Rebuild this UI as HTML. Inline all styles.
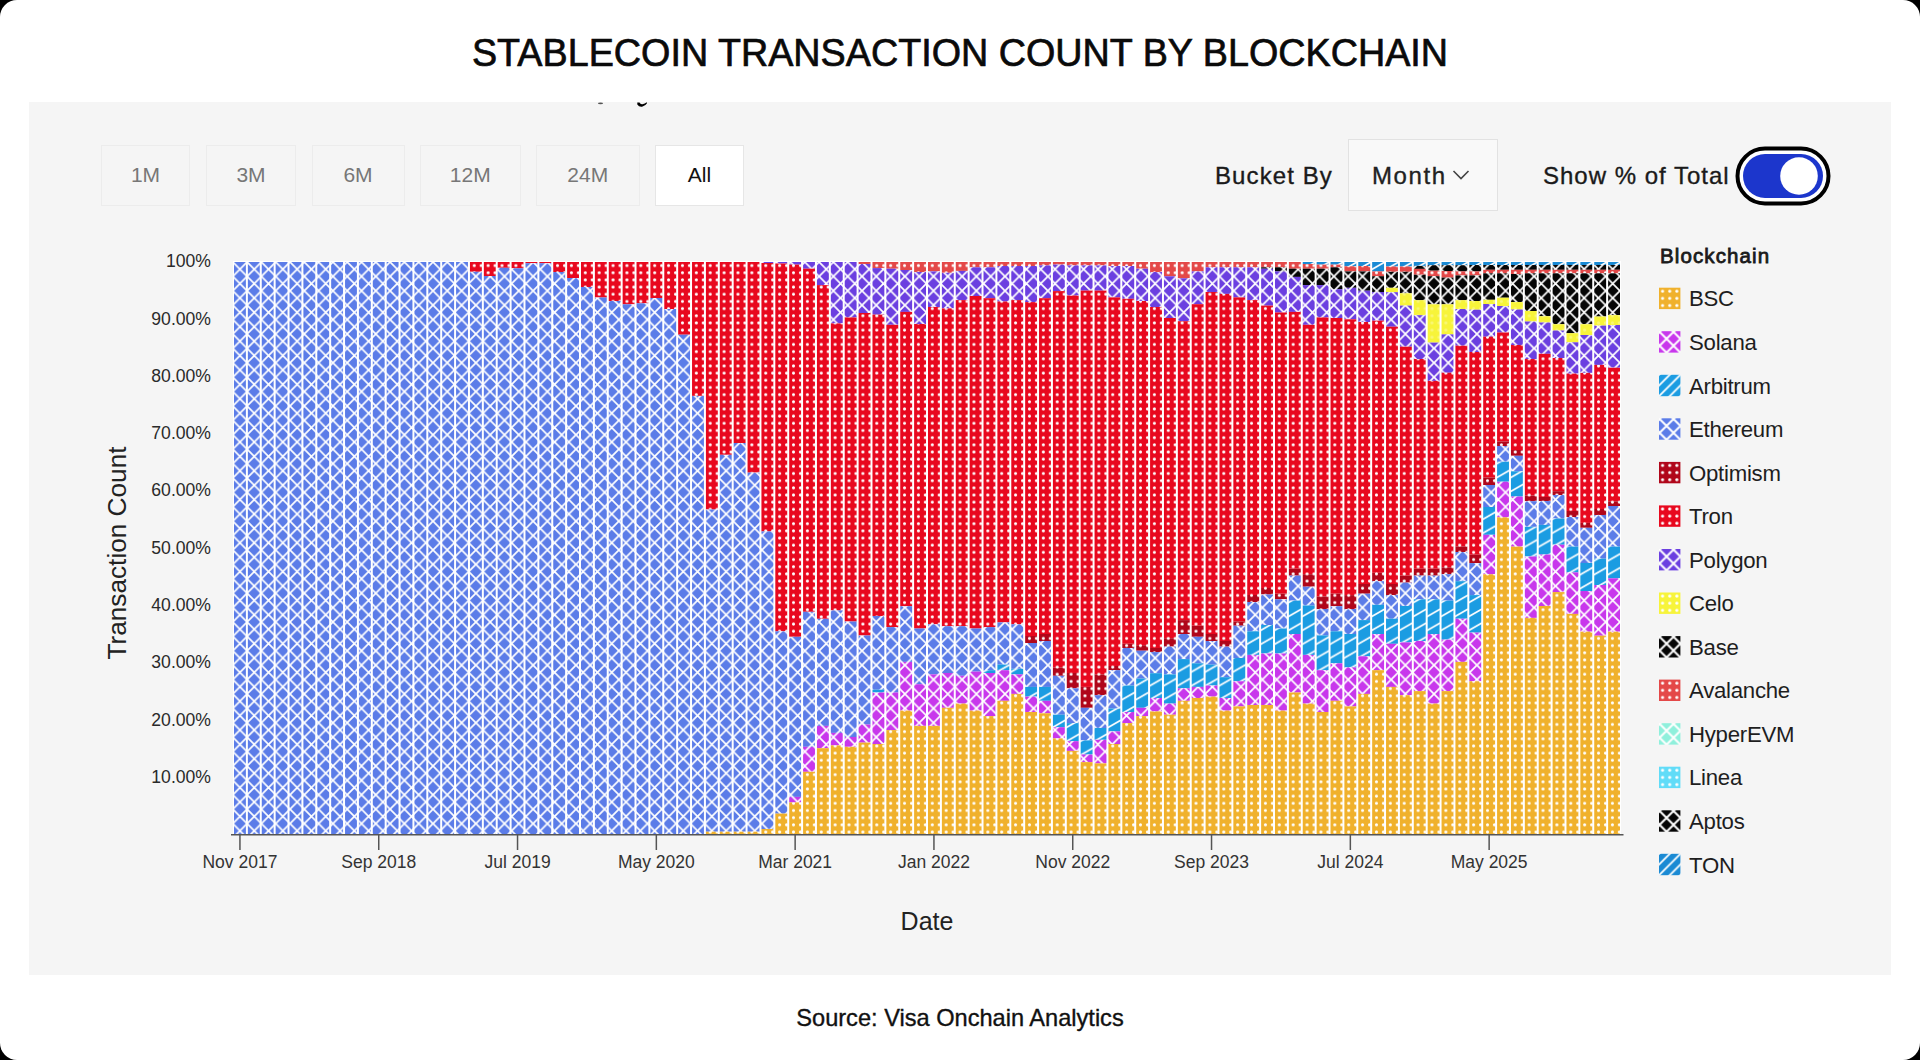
<!DOCTYPE html>
<html><head><meta charset="utf-8"><title>Stablecoin Transaction Count by Blockchain</title>
<style>
html,body{margin:0;padding:0;width:1920px;height:1060px;overflow:hidden;background:#000;}
body{font-family:"Liberation Sans",sans-serif;position:relative;}
.card{position:absolute;left:0;top:0;width:1920px;height:1060px;background:#fff;border-radius:17px;overflow:hidden;}
.title{position:absolute;left:0;width:1920px;top:29.5px;text-align:center;font-size:39.5px;color:#0a0a0a;letter-spacing:0px;white-space:nowrap;-webkit-text-stroke:0.7px #0a0a0a;transform:scaleX(0.955);transform-origin:960px 0;}
.panel{position:absolute;left:29px;top:102px;width:1862px;height:873px;background:#f5f5f5;}
.btn{position:absolute;top:144.5px;height:61px;box-sizing:border-box;border:1.5px solid #ececec;background:#f5f5f5;color:#777;font-size:21px;display:flex;align-items:center;justify-content:center;}
.btn.on{background:#fff;color:#111;border-color:#e6e6e6;}
.lbl{position:absolute;font-size:24px;color:#1a1a1a;white-space:nowrap;-webkit-text-stroke:0.35px currentColor;}
.dd{position:absolute;left:1348px;top:139px;width:150px;height:72px;box-sizing:border-box;border:1.5px solid #e2e2e2;background:#f9f9f9;}
.chart{position:absolute;left:0;top:0;}
</style></head><body>
<div class="card">
<div class="title">STABLECOIN TRANSACTION COUNT BY BLOCKCHAIN</div>
<div class="panel"></div>
<svg style="position:absolute;left:590px;top:98px" width="70" height="14" viewBox="0 0 70 14"><ellipse cx="10.5" cy="5.3" rx="2.6" ry="0.9" fill="#555"/><path d="M47.3 4.6L49.5 4.6Q50.5 6.6 52.5 6.2Q54.8 5.6 56.8 4.2L57 5.2Q55.5 7.6 52.6 8.6Q49.2 9.4 47.3 6.6Z" fill="#000"/></svg>
<div class="btn" style="left:101px;width:89px">1M</div>
<div class="btn" style="left:206px;width:90px">3M</div>
<div class="btn" style="left:311.5px;width:93px">6M</div>
<div class="btn" style="left:420px;width:100.5px">12M</div>
<div class="btn" style="left:535.5px;width:104.5px">24M</div>
<div class="btn on" style="left:655px;width:89px">All</div>
<div class="lbl" style="left:1215px;top:162px;letter-spacing:1.1px">Bucket By</div>
<div class="dd"></div>
<div class="lbl" style="left:1372px;top:162px;color:#222;letter-spacing:1.6px">Month</div>
<svg style="position:absolute;left:1452px;top:169px" width="18" height="12" viewBox="0 0 18 12"><path d="M1.5 2L9 9.5L16.5 2" fill="none" stroke="#444" stroke-width="1.6"/></svg>
<div class="lbl" style="left:1543px;top:162px;letter-spacing:1.0px">Show % of Total</div>
<svg style="position:absolute;left:1734px;top:145px" width="98" height="62" viewBox="0 0 98 62">
<rect x="3.5" y="3.5" width="91" height="55" rx="27.5" fill="#fff" stroke="#000" stroke-width="4"/>
<rect x="9" y="9" width="80" height="44" rx="22" fill="#1c36cc"/>
<circle cx="65" cy="31" r="18.8" fill="#fff"/>
</svg>
<svg class="chart" width="1920" height="1060" viewBox="0 0 1920 1060">
<defs><pattern id="p_bsc" patternUnits="userSpaceOnUse" x="234.83" y="262.0" width="6.94" height="7.17"><rect width="6.94" height="7.17" fill="#f0b12c"/><circle cx="3.47" cy="3.58" r="1.55" fill="#fff" fill-opacity="1"/></pattern><pattern id="p_sol" patternUnits="userSpaceOnUse" x="232.8" y="262.0" width="14.3" height="14.4"><rect width="14.3" height="14.4" fill="#c837ec"/><path d="M0 0L14.3 14.4M14.3 0L0 14.4" stroke="#fff" stroke-width="1.7" stroke-linecap="square"/></pattern><pattern id="p_arb" patternUnits="userSpaceOnUse" x="232.8" y="262.0" width="13.88" height="13.88"><rect width="13.88" height="13.88" fill="#1b9ce2"/><path d="M0 -5.88L13.88 -13.88M0 8.00L13.88 0.00M0 21.88L13.88 13.88" stroke="#fff" stroke-width="1.7"/></pattern><pattern id="p_eth" patternUnits="userSpaceOnUse" x="232.8" y="262.0" width="14.3" height="14.4"><rect width="14.3" height="14.4" fill="#5b7ce8"/><path d="M0 0L14.3 14.4M14.3 0L0 14.4" stroke="#fff" stroke-width="1.7" stroke-linecap="square"/></pattern><pattern id="p_opt" patternUnits="userSpaceOnUse" x="234.83" y="262.0" width="6.94" height="7.17"><rect width="6.94" height="7.17" fill="#b0061a"/><circle cx="3.47" cy="3.58" r="1.55" fill="#fff" fill-opacity="1"/></pattern><pattern id="p_tron" patternUnits="userSpaceOnUse" x="234.83" y="262.0" width="6.94" height="7.17"><rect width="6.94" height="7.17" fill="#e8081e"/><circle cx="3.47" cy="3.58" r="1.55" fill="#fff" fill-opacity="1"/></pattern><pattern id="p_poly" patternUnits="userSpaceOnUse" x="232.8" y="262.0" width="14.3" height="14.4"><rect width="14.3" height="14.4" fill="#6b3fe0"/><path d="M0 0L14.3 14.4M14.3 0L0 14.4" stroke="#fff" stroke-width="1.7" stroke-linecap="square"/></pattern><pattern id="p_celo" patternUnits="userSpaceOnUse" x="234.83" y="262.0" width="6.94" height="7.17"><rect width="6.94" height="7.17" fill="#f7f43a"/><circle cx="3.47" cy="3.58" r="1.55" fill="#fff" fill-opacity="0.3"/></pattern><pattern id="p_base" patternUnits="userSpaceOnUse" x="232.8" y="262.0" width="14.3" height="14.4"><rect width="14.3" height="14.4" fill="#050505"/><path d="M0 0L14.3 14.4M14.3 0L0 14.4" stroke="#fff" stroke-width="1.7" stroke-linecap="square"/></pattern><pattern id="p_aval" patternUnits="userSpaceOnUse" x="234.83" y="262.0" width="6.94" height="7.17"><rect width="6.94" height="7.17" fill="#e44848"/><circle cx="3.47" cy="3.58" r="1.55" fill="#fff" fill-opacity="1"/></pattern><pattern id="p_hyp" patternUnits="userSpaceOnUse" x="232.8" y="262.0" width="14.3" height="14.4"><rect width="14.3" height="14.4" fill="#8ff0dc"/><path d="M0 0L14.3 14.4M14.3 0L0 14.4" stroke="#fff" stroke-width="1.7" stroke-linecap="square"/></pattern><pattern id="p_linea" patternUnits="userSpaceOnUse" x="234.83" y="262.0" width="6.94" height="7.17"><rect width="6.94" height="7.17" fill="#61dcf8"/><circle cx="3.47" cy="3.58" r="1.55" fill="#fff" fill-opacity="1"/></pattern><pattern id="p_apt" patternUnits="userSpaceOnUse" x="232.8" y="262.0" width="14.3" height="14.4"><rect width="14.3" height="14.4" fill="#050505"/><path d="M0 0L14.3 14.4M14.3 0L0 14.4" stroke="#fff" stroke-width="1.7" stroke-linecap="square"/></pattern><pattern id="p_ton" patternUnits="userSpaceOnUse" x="232.8" y="262.0" width="13.88" height="13.88"><rect width="13.88" height="13.88" fill="#1a8ad4"/><path d="M0 -5.88L13.88 -13.88M0 8.00L13.88 0.00M0 21.88L13.88 13.88" stroke="#fff" stroke-width="1.7"/></pattern><pattern id="lg_bsc" patternUnits="userSpaceOnUse" x="1659" y="287.7" width="7.13" height="7.13"><rect width="7.13" height="7.13" fill="#f0b12c"/><circle cx="3.57" cy="3.57" r="1.6" fill="#fff"/></pattern><pattern id="lg_sol" patternUnits="userSpaceOnUse" x="1659.60" y="331.85" width="13.9" height="13.9"><rect width="13.9" height="13.9" fill="#c837ec"/><path d="M0 0L13.9 13.9M13.9 0L0 13.9" stroke="#fff" stroke-width="2"/></pattern><pattern id="lg_arb" patternUnits="userSpaceOnUse" x="1659" y="374.8" width="10.7" height="10.7"><rect width="10.7" height="10.7" fill="#1b9ce2"/><path d="M0 10.7L10.7 0M-2 2L2 -2M8.7 12.7L12.7 8.7" stroke="#fff" stroke-width="1.8"/></pattern><pattern id="lg_eth" patternUnits="userSpaceOnUse" x="1659.60" y="418.95" width="13.9" height="13.9"><rect width="13.9" height="13.9" fill="#5b7ce8"/><path d="M0 0L13.9 13.9M13.9 0L0 13.9" stroke="#fff" stroke-width="2"/></pattern><pattern id="lg_opt" patternUnits="userSpaceOnUse" x="1659" y="461.9" width="7.13" height="7.13"><rect width="7.13" height="7.13" fill="#b0061a"/><circle cx="3.57" cy="3.57" r="1.6" fill="#fff"/></pattern><pattern id="lg_tron" patternUnits="userSpaceOnUse" x="1659" y="505.45" width="7.13" height="7.13"><rect width="7.13" height="7.13" fill="#e8081e"/><circle cx="3.57" cy="3.57" r="1.6" fill="#fff"/></pattern><pattern id="lg_poly" patternUnits="userSpaceOnUse" x="1659.60" y="549.60" width="13.9" height="13.9"><rect width="13.9" height="13.9" fill="#6b3fe0"/><path d="M0 0L13.9 13.9M13.9 0L0 13.9" stroke="#fff" stroke-width="2"/></pattern><pattern id="lg_celo" patternUnits="userSpaceOnUse" x="1659" y="592.55" width="7.13" height="7.13"><rect width="7.13" height="7.13" fill="#f7f43a"/><circle cx="3.57" cy="3.57" r="1.6" fill="#fff"/></pattern><pattern id="lg_base" patternUnits="userSpaceOnUse" x="1659.60" y="636.70" width="13.9" height="13.9"><rect width="13.9" height="13.9" fill="#050505"/><path d="M0 0L13.9 13.9M13.9 0L0 13.9" stroke="#fff" stroke-width="2"/></pattern><pattern id="lg_aval" patternUnits="userSpaceOnUse" x="1659" y="679.6499999999999" width="7.13" height="7.13"><rect width="7.13" height="7.13" fill="#e44848"/><circle cx="3.57" cy="3.57" r="1.6" fill="#fff"/></pattern><pattern id="lg_hyp" patternUnits="userSpaceOnUse" x="1659.60" y="723.80" width="13.9" height="13.9"><rect width="13.9" height="13.9" fill="#8ff0dc"/><path d="M0 0L13.9 13.9M13.9 0L0 13.9" stroke="#fff" stroke-width="2"/></pattern><pattern id="lg_linea" patternUnits="userSpaceOnUse" x="1659" y="766.7499999999999" width="7.13" height="7.13"><rect width="7.13" height="7.13" fill="#61dcf8"/><circle cx="3.57" cy="3.57" r="1.6" fill="#fff"/></pattern><pattern id="lg_apt" patternUnits="userSpaceOnUse" x="1659.60" y="810.90" width="13.9" height="13.9"><rect width="13.9" height="13.9" fill="#050505"/><path d="M0 0L13.9 13.9M13.9 0L0 13.9" stroke="#fff" stroke-width="2"/></pattern><pattern id="lg_ton" patternUnits="userSpaceOnUse" x="1659" y="853.8499999999999" width="10.7" height="10.7"><rect width="10.7" height="10.7" fill="#1a8ad4"/><path d="M0 10.7L10.7 0M-2 2L2 -2M8.7 12.7L12.7 8.7" stroke="#fff" stroke-width="1.8"/></pattern></defs>
<rect x="233.0" y="261.0" width="1388.0" height="573.0" fill="#ffffff"/>
<rect x="234.00" y="262.00" width="11.88" height="572.00" fill="url(#p_eth)"/><rect x="247.88" y="262.00" width="11.88" height="572.00" fill="url(#p_eth)"/><rect x="261.76" y="262.00" width="11.88" height="572.00" fill="url(#p_eth)"/><rect x="275.64" y="262.00" width="11.88" height="572.00" fill="url(#p_eth)"/><rect x="289.52" y="262.00" width="11.88" height="572.00" fill="url(#p_eth)"/><rect x="303.40" y="262.00" width="11.88" height="572.00" fill="url(#p_eth)"/><rect x="317.28" y="262.00" width="11.88" height="572.00" fill="url(#p_eth)"/><rect x="331.16" y="262.00" width="11.88" height="572.00" fill="url(#p_eth)"/><rect x="345.04" y="262.00" width="11.88" height="572.00" fill="url(#p_eth)"/><rect x="358.92" y="262.00" width="11.88" height="572.00" fill="url(#p_eth)"/><rect x="372.80" y="262.00" width="11.88" height="572.00" fill="url(#p_eth)"/><rect x="386.68" y="262.00" width="11.88" height="572.00" fill="url(#p_eth)"/><rect x="400.56" y="262.00" width="11.88" height="572.00" fill="url(#p_eth)"/><rect x="414.44" y="262.00" width="11.88" height="572.00" fill="url(#p_eth)"/><rect x="428.32" y="262.00" width="11.88" height="572.00" fill="url(#p_eth)"/><rect x="442.20" y="262.00" width="11.88" height="572.00" fill="url(#p_eth)"/><rect x="456.08" y="262.00" width="11.88" height="572.00" fill="url(#p_eth)"/><rect x="469.96" y="262.00" width="11.88" height="9.80" fill="url(#p_tron)"/><rect x="469.96" y="271.80" width="11.88" height="562.20" fill="url(#p_eth)"/><rect x="483.84" y="262.00" width="11.88" height="14.00" fill="url(#p_tron)"/><rect x="483.84" y="276.00" width="11.88" height="558.00" fill="url(#p_eth)"/><rect x="497.72" y="262.00" width="11.88" height="5.80" fill="url(#p_tron)"/><rect x="497.72" y="267.80" width="11.88" height="566.20" fill="url(#p_eth)"/><rect x="511.60" y="262.00" width="11.88" height="6.30" fill="url(#p_tron)"/><rect x="511.60" y="268.30" width="11.88" height="565.70" fill="url(#p_eth)"/><rect x="525.48" y="262.00" width="11.88" height="1.20" fill="url(#p_tron)"/><rect x="525.48" y="263.20" width="11.88" height="570.80" fill="url(#p_eth)"/><rect x="539.36" y="262.00" width="11.88" height="1.20" fill="url(#p_tron)"/><rect x="539.36" y="263.20" width="11.88" height="570.80" fill="url(#p_eth)"/><rect x="553.24" y="262.00" width="11.88" height="10.00" fill="url(#p_tron)"/><rect x="553.24" y="272.00" width="11.88" height="562.00" fill="url(#p_eth)"/><rect x="567.12" y="262.00" width="11.88" height="16.00" fill="url(#p_tron)"/><rect x="567.12" y="278.00" width="11.88" height="556.00" fill="url(#p_eth)"/><rect x="581.00" y="262.00" width="11.88" height="25.00" fill="url(#p_tron)"/><rect x="581.00" y="287.00" width="11.88" height="547.00" fill="url(#p_eth)"/><rect x="594.88" y="262.00" width="11.88" height="35.50" fill="url(#p_tron)"/><rect x="594.88" y="297.50" width="11.88" height="536.50" fill="url(#p_eth)"/><rect x="608.76" y="262.00" width="11.88" height="39.00" fill="url(#p_tron)"/><rect x="608.76" y="301.00" width="11.88" height="533.00" fill="url(#p_eth)"/><rect x="622.64" y="262.00" width="11.88" height="42.30" fill="url(#p_tron)"/><rect x="622.64" y="304.30" width="11.88" height="529.70" fill="url(#p_eth)"/><rect x="636.52" y="262.00" width="11.88" height="41.30" fill="url(#p_tron)"/><rect x="636.52" y="303.30" width="11.88" height="530.70" fill="url(#p_eth)"/><rect x="650.40" y="262.00" width="11.88" height="36.00" fill="url(#p_tron)"/><rect x="650.40" y="298.00" width="11.88" height="536.00" fill="url(#p_eth)"/><rect x="664.28" y="262.00" width="11.88" height="47.00" fill="url(#p_tron)"/><rect x="664.28" y="309.00" width="11.88" height="525.00" fill="url(#p_eth)"/><rect x="678.16" y="262.00" width="11.88" height="72.70" fill="url(#p_tron)"/><rect x="678.16" y="334.70" width="11.88" height="499.30" fill="url(#p_eth)"/><rect x="692.04" y="262.00" width="11.88" height="133.90" fill="url(#p_tron)"/><rect x="692.04" y="395.90" width="11.88" height="438.10" fill="url(#p_eth)"/><rect x="705.92" y="262.00" width="11.88" height="247.50" fill="url(#p_tron)"/><rect x="705.92" y="509.50" width="11.88" height="322.20" fill="url(#p_eth)"/><rect x="705.92" y="831.70" width="11.88" height="2.30" fill="url(#p_bsc)"/><rect x="719.80" y="262.00" width="11.88" height="192.80" fill="url(#p_tron)"/><rect x="719.80" y="454.80" width="11.88" height="376.90" fill="url(#p_eth)"/><rect x="719.80" y="831.70" width="11.88" height="2.30" fill="url(#p_bsc)"/><rect x="733.68" y="262.00" width="11.88" height="181.00" fill="url(#p_tron)"/><rect x="733.68" y="443.00" width="11.88" height="388.70" fill="url(#p_eth)"/><rect x="733.68" y="831.70" width="11.88" height="2.30" fill="url(#p_bsc)"/><rect x="747.56" y="262.00" width="11.88" height="210.60" fill="url(#p_tron)"/><rect x="747.56" y="472.60" width="11.88" height="359.10" fill="url(#p_eth)"/><rect x="747.56" y="831.70" width="11.88" height="2.30" fill="url(#p_bsc)"/><rect x="761.44" y="262.00" width="11.88" height="1.00" fill="url(#p_poly)"/><rect x="761.44" y="263.00" width="11.88" height="268.40" fill="url(#p_tron)"/><rect x="761.44" y="531.40" width="11.88" height="297.60" fill="url(#p_eth)"/><rect x="761.44" y="829.00" width="11.88" height="5.00" fill="url(#p_bsc)"/><rect x="775.32" y="262.00" width="11.88" height="1.50" fill="url(#p_poly)"/><rect x="775.32" y="263.50" width="11.88" height="367.80" fill="url(#p_tron)"/><rect x="775.32" y="631.30" width="11.88" height="182.30" fill="url(#p_eth)"/><rect x="775.32" y="813.60" width="11.88" height="20.40" fill="url(#p_bsc)"/><rect x="789.20" y="262.00" width="11.88" height="2.60" fill="url(#p_poly)"/><rect x="789.20" y="264.60" width="11.88" height="372.20" fill="url(#p_tron)"/><rect x="789.20" y="636.80" width="11.88" height="160.10" fill="url(#p_eth)"/><rect x="789.20" y="796.90" width="11.88" height="5.50" fill="url(#p_sol)"/><rect x="789.20" y="802.40" width="11.88" height="31.60" fill="url(#p_bsc)"/><rect x="803.08" y="262.00" width="11.88" height="6.70" fill="url(#p_poly)"/><rect x="803.08" y="268.70" width="11.88" height="343.10" fill="url(#p_tron)"/><rect x="803.08" y="611.80" width="11.88" height="135.00" fill="url(#p_eth)"/><rect x="803.08" y="746.80" width="11.88" height="25.00" fill="url(#p_sol)"/><rect x="803.08" y="771.80" width="11.88" height="62.20" fill="url(#p_bsc)"/><rect x="816.96" y="262.00" width="11.88" height="23.10" fill="url(#p_poly)"/><rect x="816.96" y="285.10" width="11.88" height="333.70" fill="url(#p_tron)"/><rect x="816.96" y="618.80" width="11.88" height="107.10" fill="url(#p_eth)"/><rect x="816.96" y="725.90" width="11.88" height="22.30" fill="url(#p_sol)"/><rect x="816.96" y="748.20" width="11.88" height="85.80" fill="url(#p_bsc)"/><rect x="830.84" y="262.00" width="11.88" height="61.40" fill="url(#p_poly)"/><rect x="830.84" y="323.40" width="11.88" height="287.00" fill="url(#p_tron)"/><rect x="830.84" y="610.40" width="11.88" height="122.50" fill="url(#p_eth)"/><rect x="830.84" y="732.90" width="11.88" height="12.50" fill="url(#p_sol)"/><rect x="830.84" y="745.40" width="11.88" height="88.60" fill="url(#p_bsc)"/><rect x="844.72" y="262.00" width="11.88" height="55.40" fill="url(#p_poly)"/><rect x="844.72" y="317.40" width="11.88" height="304.10" fill="url(#p_tron)"/><rect x="844.72" y="621.50" width="11.88" height="115.50" fill="url(#p_eth)"/><rect x="844.72" y="737.00" width="11.88" height="9.80" fill="url(#p_sol)"/><rect x="844.72" y="746.80" width="11.88" height="87.20" fill="url(#p_bsc)"/><rect x="858.60" y="262.00" width="11.88" height="2.00" fill="url(#p_aval)"/><rect x="858.60" y="264.00" width="11.88" height="49.00" fill="url(#p_poly)"/><rect x="858.60" y="313.00" width="11.88" height="322.50" fill="url(#p_tron)"/><rect x="858.60" y="635.50" width="11.88" height="89.00" fill="url(#p_eth)"/><rect x="858.60" y="724.50" width="11.88" height="18.10" fill="url(#p_sol)"/><rect x="858.60" y="742.60" width="11.88" height="91.40" fill="url(#p_bsc)"/><rect x="872.48" y="262.00" width="11.88" height="6.10" fill="url(#p_aval)"/><rect x="872.48" y="268.10" width="11.88" height="46.50" fill="url(#p_poly)"/><rect x="872.48" y="314.60" width="11.88" height="301.40" fill="url(#p_tron)"/><rect x="872.48" y="616.00" width="11.88" height="73.70" fill="url(#p_eth)"/><rect x="872.48" y="689.70" width="11.88" height="2.80" fill="url(#p_arb)"/><rect x="872.48" y="692.50" width="11.88" height="51.50" fill="url(#p_sol)"/><rect x="872.48" y="744.00" width="11.88" height="90.00" fill="url(#p_bsc)"/><rect x="886.36" y="262.00" width="11.88" height="6.70" fill="url(#p_aval)"/><rect x="886.36" y="268.70" width="11.88" height="56.10" fill="url(#p_poly)"/><rect x="886.36" y="324.80" width="11.88" height="302.30" fill="url(#p_tron)"/><rect x="886.36" y="627.10" width="11.88" height="65.40" fill="url(#p_eth)"/><rect x="886.36" y="692.50" width="11.88" height="37.60" fill="url(#p_sol)"/><rect x="886.36" y="730.10" width="11.88" height="103.90" fill="url(#p_bsc)"/><rect x="900.24" y="262.00" width="11.88" height="8.00" fill="url(#p_aval)"/><rect x="900.24" y="270.00" width="11.88" height="41.90" fill="url(#p_poly)"/><rect x="900.24" y="311.90" width="11.88" height="294.30" fill="url(#p_tron)"/><rect x="900.24" y="606.20" width="11.88" height="55.70" fill="url(#p_eth)"/><rect x="900.24" y="661.90" width="11.88" height="48.70" fill="url(#p_sol)"/><rect x="900.24" y="710.60" width="11.88" height="123.40" fill="url(#p_bsc)"/><rect x="914.12" y="262.00" width="11.88" height="10.00" fill="url(#p_aval)"/><rect x="914.12" y="272.00" width="11.88" height="52.00" fill="url(#p_poly)"/><rect x="914.12" y="324.00" width="11.88" height="304.50" fill="url(#p_tron)"/><rect x="914.12" y="628.50" width="11.88" height="55.70" fill="url(#p_eth)"/><rect x="914.12" y="684.20" width="11.88" height="41.70" fill="url(#p_sol)"/><rect x="914.12" y="725.90" width="11.88" height="108.10" fill="url(#p_bsc)"/><rect x="928.00" y="262.00" width="11.88" height="9.40" fill="url(#p_aval)"/><rect x="928.00" y="271.40" width="11.88" height="35.60" fill="url(#p_poly)"/><rect x="928.00" y="307.00" width="11.88" height="317.30" fill="url(#p_tron)"/><rect x="928.00" y="624.30" width="11.88" height="50.10" fill="url(#p_eth)"/><rect x="928.00" y="674.40" width="11.88" height="51.50" fill="url(#p_sol)"/><rect x="928.00" y="725.90" width="11.88" height="108.10" fill="url(#p_bsc)"/><rect x="941.88" y="262.00" width="11.88" height="10.80" fill="url(#p_aval)"/><rect x="941.88" y="272.80" width="11.88" height="35.60" fill="url(#p_poly)"/><rect x="941.88" y="308.40" width="11.88" height="317.80" fill="url(#p_tron)"/><rect x="941.88" y="626.20" width="11.88" height="46.80" fill="url(#p_eth)"/><rect x="941.88" y="673.00" width="11.88" height="34.80" fill="url(#p_sol)"/><rect x="941.88" y="707.80" width="11.88" height="126.20" fill="url(#p_bsc)"/><rect x="955.76" y="262.00" width="11.88" height="8.90" fill="url(#p_aval)"/><rect x="955.76" y="270.90" width="11.88" height="29.20" fill="url(#p_poly)"/><rect x="955.76" y="300.10" width="11.88" height="326.10" fill="url(#p_tron)"/><rect x="955.76" y="626.20" width="11.88" height="49.60" fill="url(#p_eth)"/><rect x="955.76" y="675.80" width="11.88" height="27.80" fill="url(#p_sol)"/><rect x="955.76" y="703.60" width="11.88" height="130.40" fill="url(#p_bsc)"/><rect x="969.64" y="262.00" width="11.88" height="5.30" fill="url(#p_aval)"/><rect x="969.64" y="267.30" width="11.88" height="28.70" fill="url(#p_poly)"/><rect x="969.64" y="296.00" width="11.88" height="332.50" fill="url(#p_tron)"/><rect x="969.64" y="628.50" width="11.88" height="43.10" fill="url(#p_eth)"/><rect x="969.64" y="671.60" width="11.88" height="39.00" fill="url(#p_sol)"/><rect x="969.64" y="710.60" width="11.88" height="123.40" fill="url(#p_bsc)"/><rect x="983.52" y="262.00" width="11.88" height="5.30" fill="url(#p_aval)"/><rect x="983.52" y="267.30" width="11.88" height="30.90" fill="url(#p_poly)"/><rect x="983.52" y="298.20" width="11.88" height="328.90" fill="url(#p_tron)"/><rect x="983.52" y="627.10" width="11.88" height="43.10" fill="url(#p_eth)"/><rect x="983.52" y="670.20" width="11.88" height="2.80" fill="url(#p_arb)"/><rect x="983.52" y="673.00" width="11.88" height="43.10" fill="url(#p_sol)"/><rect x="983.52" y="716.10" width="11.88" height="117.90" fill="url(#p_bsc)"/><rect x="997.40" y="262.00" width="11.88" height="4.00" fill="url(#p_aval)"/><rect x="997.40" y="266.00" width="11.88" height="35.50" fill="url(#p_poly)"/><rect x="997.40" y="301.50" width="11.88" height="320.90" fill="url(#p_tron)"/><rect x="997.40" y="622.40" width="11.88" height="42.20" fill="url(#p_eth)"/><rect x="997.40" y="664.60" width="11.88" height="5.60" fill="url(#p_arb)"/><rect x="997.40" y="670.20" width="11.88" height="30.60" fill="url(#p_sol)"/><rect x="997.40" y="700.80" width="11.88" height="133.20" fill="url(#p_bsc)"/><rect x="1011.28" y="262.00" width="11.88" height="4.00" fill="url(#p_aval)"/><rect x="1011.28" y="266.00" width="11.88" height="34.10" fill="url(#p_poly)"/><rect x="1011.28" y="300.10" width="11.88" height="324.20" fill="url(#p_tron)"/><rect x="1011.28" y="624.30" width="11.88" height="44.50" fill="url(#p_eth)"/><rect x="1011.28" y="668.80" width="11.88" height="5.60" fill="url(#p_arb)"/><rect x="1011.28" y="674.40" width="11.88" height="19.50" fill="url(#p_sol)"/><rect x="1011.28" y="693.90" width="11.88" height="140.10" fill="url(#p_bsc)"/><rect x="1025.16" y="262.00" width="11.88" height="4.00" fill="url(#p_aval)"/><rect x="1025.16" y="266.00" width="11.88" height="36.10" fill="url(#p_poly)"/><rect x="1025.16" y="302.10" width="11.88" height="333.90" fill="url(#p_tron)"/><rect x="1025.16" y="636.00" width="11.88" height="7.00" fill="url(#p_opt)"/><rect x="1025.16" y="643.00" width="11.88" height="43.90" fill="url(#p_eth)"/><rect x="1025.16" y="686.90" width="11.88" height="9.70" fill="url(#p_arb)"/><rect x="1025.16" y="696.60" width="11.88" height="15.40" fill="url(#p_sol)"/><rect x="1025.16" y="712.00" width="11.88" height="122.00" fill="url(#p_bsc)"/><rect x="1039.04" y="262.00" width="11.88" height="3.40" fill="url(#p_aval)"/><rect x="1039.04" y="265.40" width="11.88" height="32.80" fill="url(#p_poly)"/><rect x="1039.04" y="298.20" width="11.88" height="335.80" fill="url(#p_tron)"/><rect x="1039.04" y="634.00" width="11.88" height="7.00" fill="url(#p_opt)"/><rect x="1039.04" y="641.00" width="11.88" height="45.90" fill="url(#p_eth)"/><rect x="1039.04" y="686.90" width="11.88" height="13.90" fill="url(#p_arb)"/><rect x="1039.04" y="700.80" width="11.88" height="12.50" fill="url(#p_sol)"/><rect x="1039.04" y="713.30" width="11.88" height="120.70" fill="url(#p_bsc)"/><rect x="1052.92" y="262.00" width="11.88" height="2.60" fill="url(#p_aval)"/><rect x="1052.92" y="264.60" width="11.88" height="26.50" fill="url(#p_poly)"/><rect x="1052.92" y="291.10" width="11.88" height="376.30" fill="url(#p_tron)"/><rect x="1052.92" y="667.40" width="11.88" height="8.40" fill="url(#p_opt)"/><rect x="1052.92" y="675.80" width="11.88" height="38.90" fill="url(#p_eth)"/><rect x="1052.92" y="714.70" width="11.88" height="12.50" fill="url(#p_arb)"/><rect x="1052.92" y="727.20" width="11.88" height="11.20" fill="url(#p_sol)"/><rect x="1052.92" y="738.40" width="11.88" height="95.60" fill="url(#p_bsc)"/><rect x="1066.80" y="262.00" width="11.88" height="3.40" fill="url(#p_aval)"/><rect x="1066.80" y="265.40" width="11.88" height="30.10" fill="url(#p_poly)"/><rect x="1066.80" y="295.50" width="11.88" height="377.50" fill="url(#p_tron)"/><rect x="1066.80" y="673.00" width="11.88" height="15.30" fill="url(#p_opt)"/><rect x="1066.80" y="688.30" width="11.88" height="34.80" fill="url(#p_eth)"/><rect x="1066.80" y="723.10" width="11.88" height="18.10" fill="url(#p_arb)"/><rect x="1066.80" y="741.20" width="11.88" height="9.70" fill="url(#p_sol)"/><rect x="1066.80" y="750.90" width="11.88" height="83.10" fill="url(#p_bsc)"/><rect x="1080.68" y="262.00" width="11.88" height="3.40" fill="url(#p_aval)"/><rect x="1080.68" y="265.40" width="11.88" height="25.20" fill="url(#p_poly)"/><rect x="1080.68" y="290.60" width="11.88" height="396.30" fill="url(#p_tron)"/><rect x="1080.68" y="686.90" width="11.88" height="20.90" fill="url(#p_opt)"/><rect x="1080.68" y="707.80" width="11.88" height="32.60" fill="url(#p_eth)"/><rect x="1080.68" y="740.40" width="11.88" height="14.10" fill="url(#p_arb)"/><rect x="1080.68" y="754.50" width="11.88" height="7.60" fill="url(#p_sol)"/><rect x="1080.68" y="762.10" width="11.88" height="71.90" fill="url(#p_bsc)"/><rect x="1094.56" y="262.00" width="11.88" height="3.40" fill="url(#p_aval)"/><rect x="1094.56" y="265.40" width="11.88" height="25.20" fill="url(#p_poly)"/><rect x="1094.56" y="290.60" width="11.88" height="383.80" fill="url(#p_tron)"/><rect x="1094.56" y="674.40" width="11.88" height="20.80" fill="url(#p_opt)"/><rect x="1094.56" y="695.20" width="11.88" height="32.80" fill="url(#p_eth)"/><rect x="1094.56" y="728.00" width="11.88" height="11.80" fill="url(#p_arb)"/><rect x="1094.56" y="739.80" width="11.88" height="23.60" fill="url(#p_sol)"/><rect x="1094.56" y="763.40" width="11.88" height="70.60" fill="url(#p_bsc)"/><rect x="1108.44" y="262.00" width="11.88" height="4.00" fill="url(#p_aval)"/><rect x="1108.44" y="266.00" width="11.88" height="31.40" fill="url(#p_poly)"/><rect x="1108.44" y="297.40" width="11.88" height="368.60" fill="url(#p_tron)"/><rect x="1108.44" y="666.00" width="11.88" height="4.20" fill="url(#p_opt)"/><rect x="1108.44" y="670.20" width="11.88" height="38.30" fill="url(#p_eth)"/><rect x="1108.44" y="708.50" width="11.88" height="22.90" fill="url(#p_arb)"/><rect x="1108.44" y="731.40" width="11.88" height="12.60" fill="url(#p_sol)"/><rect x="1108.44" y="744.00" width="11.88" height="90.00" fill="url(#p_bsc)"/><rect x="1122.32" y="262.00" width="11.88" height="4.00" fill="url(#p_aval)"/><rect x="1122.32" y="266.00" width="11.88" height="32.80" fill="url(#p_poly)"/><rect x="1122.32" y="298.80" width="11.88" height="345.00" fill="url(#p_tron)"/><rect x="1122.32" y="643.80" width="11.88" height="4.20" fill="url(#p_opt)"/><rect x="1122.32" y="648.00" width="11.88" height="37.50" fill="url(#p_eth)"/><rect x="1122.32" y="685.50" width="11.88" height="26.50" fill="url(#p_arb)"/><rect x="1122.32" y="712.00" width="11.88" height="11.10" fill="url(#p_sol)"/><rect x="1122.32" y="723.10" width="11.88" height="110.90" fill="url(#p_bsc)"/><rect x="1136.20" y="262.00" width="11.88" height="6.70" fill="url(#p_aval)"/><rect x="1136.20" y="268.70" width="11.88" height="32.30" fill="url(#p_poly)"/><rect x="1136.20" y="301.00" width="11.88" height="344.20" fill="url(#p_tron)"/><rect x="1136.20" y="645.20" width="11.88" height="5.50" fill="url(#p_opt)"/><rect x="1136.20" y="650.70" width="11.88" height="27.90" fill="url(#p_eth)"/><rect x="1136.20" y="678.60" width="11.88" height="29.20" fill="url(#p_arb)"/><rect x="1136.20" y="707.80" width="11.88" height="8.30" fill="url(#p_sol)"/><rect x="1136.20" y="716.10" width="11.88" height="117.90" fill="url(#p_bsc)"/><rect x="1150.08" y="262.00" width="11.88" height="10.00" fill="url(#p_aval)"/><rect x="1150.08" y="272.00" width="11.88" height="35.00" fill="url(#p_poly)"/><rect x="1150.08" y="307.00" width="11.88" height="341.00" fill="url(#p_tron)"/><rect x="1150.08" y="648.00" width="11.88" height="4.10" fill="url(#p_opt)"/><rect x="1150.08" y="652.10" width="11.88" height="21.10" fill="url(#p_eth)"/><rect x="1150.08" y="673.20" width="11.88" height="24.80" fill="url(#p_arb)"/><rect x="1150.08" y="698.00" width="11.88" height="13.40" fill="url(#p_sol)"/><rect x="1150.08" y="711.40" width="11.88" height="122.60" fill="url(#p_bsc)"/><rect x="1163.96" y="262.00" width="11.88" height="14.30" fill="url(#p_aval)"/><rect x="1163.96" y="276.30" width="11.88" height="41.70" fill="url(#p_poly)"/><rect x="1163.96" y="318.00" width="11.88" height="320.20" fill="url(#p_tron)"/><rect x="1163.96" y="638.20" width="11.88" height="8.40" fill="url(#p_opt)"/><rect x="1163.96" y="646.60" width="11.88" height="27.80" fill="url(#p_eth)"/><rect x="1163.96" y="674.40" width="11.88" height="29.20" fill="url(#p_arb)"/><rect x="1163.96" y="703.60" width="11.88" height="11.10" fill="url(#p_sol)"/><rect x="1163.96" y="714.70" width="11.88" height="119.30" fill="url(#p_bsc)"/><rect x="1177.84" y="262.00" width="11.88" height="16.30" fill="url(#p_aval)"/><rect x="1177.84" y="278.30" width="11.88" height="42.90" fill="url(#p_poly)"/><rect x="1177.84" y="321.20" width="11.88" height="298.90" fill="url(#p_tron)"/><rect x="1177.84" y="620.10" width="11.88" height="13.90" fill="url(#p_opt)"/><rect x="1177.84" y="634.00" width="11.88" height="25.10" fill="url(#p_eth)"/><rect x="1177.84" y="659.10" width="11.88" height="29.20" fill="url(#p_arb)"/><rect x="1177.84" y="688.30" width="11.88" height="12.50" fill="url(#p_sol)"/><rect x="1177.84" y="700.80" width="11.88" height="133.20" fill="url(#p_bsc)"/><rect x="1191.72" y="262.00" width="11.88" height="9.40" fill="url(#p_aval)"/><rect x="1191.72" y="271.40" width="11.88" height="32.80" fill="url(#p_poly)"/><rect x="1191.72" y="304.20" width="11.88" height="321.50" fill="url(#p_tron)"/><rect x="1191.72" y="625.70" width="11.88" height="11.10" fill="url(#p_opt)"/><rect x="1191.72" y="636.80" width="11.88" height="26.50" fill="url(#p_eth)"/><rect x="1191.72" y="663.30" width="11.88" height="23.60" fill="url(#p_arb)"/><rect x="1191.72" y="686.90" width="11.88" height="11.10" fill="url(#p_sol)"/><rect x="1191.72" y="698.00" width="11.88" height="136.00" fill="url(#p_bsc)"/><rect x="1205.60" y="262.00" width="11.88" height="5.30" fill="url(#p_aval)"/><rect x="1205.60" y="267.30" width="11.88" height="24.70" fill="url(#p_poly)"/><rect x="1205.60" y="292.00" width="11.88" height="342.00" fill="url(#p_tron)"/><rect x="1205.60" y="634.00" width="11.88" height="7.00" fill="url(#p_opt)"/><rect x="1205.60" y="641.00" width="11.88" height="23.60" fill="url(#p_eth)"/><rect x="1205.60" y="664.60" width="11.88" height="20.90" fill="url(#p_arb)"/><rect x="1205.60" y="685.50" width="11.88" height="11.10" fill="url(#p_sol)"/><rect x="1205.60" y="696.60" width="11.88" height="137.40" fill="url(#p_bsc)"/><rect x="1219.48" y="262.00" width="11.88" height="5.30" fill="url(#p_aval)"/><rect x="1219.48" y="267.30" width="11.88" height="26.60" fill="url(#p_poly)"/><rect x="1219.48" y="293.90" width="11.88" height="347.10" fill="url(#p_tron)"/><rect x="1219.48" y="641.00" width="11.88" height="5.60" fill="url(#p_opt)"/><rect x="1219.48" y="646.60" width="11.88" height="30.60" fill="url(#p_eth)"/><rect x="1219.48" y="677.20" width="11.88" height="20.80" fill="url(#p_arb)"/><rect x="1219.48" y="698.00" width="11.88" height="12.60" fill="url(#p_sol)"/><rect x="1219.48" y="710.60" width="11.88" height="123.40" fill="url(#p_bsc)"/><rect x="1233.36" y="262.00" width="11.88" height="5.30" fill="url(#p_aval)"/><rect x="1233.36" y="267.30" width="11.88" height="30.10" fill="url(#p_poly)"/><rect x="1233.36" y="297.40" width="11.88" height="324.10" fill="url(#p_tron)"/><rect x="1233.36" y="621.50" width="11.88" height="4.20" fill="url(#p_opt)"/><rect x="1233.36" y="625.70" width="11.88" height="32.30" fill="url(#p_eth)"/><rect x="1233.36" y="658.00" width="11.88" height="23.30" fill="url(#p_arb)"/><rect x="1233.36" y="681.30" width="11.88" height="25.10" fill="url(#p_sol)"/><rect x="1233.36" y="706.40" width="11.88" height="127.60" fill="url(#p_bsc)"/><rect x="1247.24" y="262.00" width="11.88" height="5.30" fill="url(#p_aval)"/><rect x="1247.24" y="267.30" width="11.88" height="32.80" fill="url(#p_poly)"/><rect x="1247.24" y="300.10" width="11.88" height="294.90" fill="url(#p_tron)"/><rect x="1247.24" y="595.00" width="11.88" height="7.00" fill="url(#p_opt)"/><rect x="1247.24" y="602.00" width="11.88" height="29.30" fill="url(#p_eth)"/><rect x="1247.24" y="631.30" width="11.88" height="23.60" fill="url(#p_arb)"/><rect x="1247.24" y="654.90" width="11.88" height="50.10" fill="url(#p_sol)"/><rect x="1247.24" y="705.00" width="11.88" height="129.00" fill="url(#p_bsc)"/><rect x="1261.12" y="262.00" width="11.88" height="5.30" fill="url(#p_aval)"/><rect x="1261.12" y="267.30" width="11.88" height="1.40" fill="url(#p_base)"/><rect x="1261.12" y="268.70" width="11.88" height="36.90" fill="url(#p_poly)"/><rect x="1261.12" y="305.60" width="11.88" height="282.40" fill="url(#p_tron)"/><rect x="1261.12" y="588.00" width="11.88" height="6.50" fill="url(#p_opt)"/><rect x="1261.12" y="594.50" width="11.88" height="30.50" fill="url(#p_eth)"/><rect x="1261.12" y="625.00" width="11.88" height="28.50" fill="url(#p_arb)"/><rect x="1261.12" y="653.50" width="11.88" height="51.50" fill="url(#p_sol)"/><rect x="1261.12" y="705.00" width="11.88" height="129.00" fill="url(#p_bsc)"/><rect x="1275.00" y="262.00" width="11.88" height="5.30" fill="url(#p_aval)"/><rect x="1275.00" y="267.30" width="11.88" height="4.10" fill="url(#p_base)"/><rect x="1275.00" y="271.40" width="11.88" height="41.10" fill="url(#p_poly)"/><rect x="1275.00" y="312.50" width="11.88" height="281.20" fill="url(#p_tron)"/><rect x="1275.00" y="593.70" width="11.88" height="5.60" fill="url(#p_opt)"/><rect x="1275.00" y="599.30" width="11.88" height="29.20" fill="url(#p_eth)"/><rect x="1275.00" y="628.50" width="11.88" height="25.00" fill="url(#p_arb)"/><rect x="1275.00" y="653.50" width="11.88" height="57.10" fill="url(#p_sol)"/><rect x="1275.00" y="710.60" width="11.88" height="123.40" fill="url(#p_bsc)"/><rect x="1288.88" y="262.00" width="11.88" height="6.70" fill="url(#p_aval)"/><rect x="1288.88" y="268.70" width="11.88" height="8.20" fill="url(#p_base)"/><rect x="1288.88" y="276.90" width="11.88" height="35.00" fill="url(#p_poly)"/><rect x="1288.88" y="311.90" width="11.88" height="256.80" fill="url(#p_tron)"/><rect x="1288.88" y="568.70" width="11.88" height="6.90" fill="url(#p_opt)"/><rect x="1288.88" y="575.60" width="11.88" height="25.00" fill="url(#p_eth)"/><rect x="1288.88" y="600.60" width="11.88" height="33.40" fill="url(#p_arb)"/><rect x="1288.88" y="634.00" width="11.88" height="58.50" fill="url(#p_sol)"/><rect x="1288.88" y="692.50" width="11.88" height="141.50" fill="url(#p_bsc)"/><rect x="1302.76" y="262.00" width="11.88" height="2.00" fill="url(#p_ton)"/><rect x="1302.76" y="264.00" width="11.88" height="4.70" fill="url(#p_aval)"/><rect x="1302.76" y="268.70" width="11.88" height="16.40" fill="url(#p_base)"/><rect x="1302.76" y="285.10" width="11.88" height="39.70" fill="url(#p_poly)"/><rect x="1302.76" y="324.80" width="11.88" height="249.40" fill="url(#p_tron)"/><rect x="1302.76" y="574.20" width="11.88" height="12.50" fill="url(#p_opt)"/><rect x="1302.76" y="586.70" width="11.88" height="18.80" fill="url(#p_eth)"/><rect x="1302.76" y="605.50" width="11.88" height="49.40" fill="url(#p_arb)"/><rect x="1302.76" y="654.90" width="11.88" height="48.70" fill="url(#p_sol)"/><rect x="1302.76" y="703.60" width="11.88" height="130.40" fill="url(#p_bsc)"/><rect x="1316.64" y="262.00" width="11.88" height="2.60" fill="url(#p_ton)"/><rect x="1316.64" y="264.60" width="11.88" height="4.10" fill="url(#p_aval)"/><rect x="1316.64" y="268.70" width="11.88" height="16.40" fill="url(#p_base)"/><rect x="1316.64" y="285.10" width="11.88" height="32.30" fill="url(#p_poly)"/><rect x="1316.64" y="317.40" width="11.88" height="279.10" fill="url(#p_tron)"/><rect x="1316.64" y="596.50" width="11.88" height="12.50" fill="url(#p_opt)"/><rect x="1316.64" y="609.00" width="11.88" height="26.40" fill="url(#p_eth)"/><rect x="1316.64" y="635.40" width="11.88" height="34.80" fill="url(#p_arb)"/><rect x="1316.64" y="670.20" width="11.88" height="41.80" fill="url(#p_sol)"/><rect x="1316.64" y="712.00" width="11.88" height="122.00" fill="url(#p_bsc)"/><rect x="1330.52" y="262.00" width="11.88" height="2.60" fill="url(#p_ton)"/><rect x="1330.52" y="264.60" width="11.88" height="2.70" fill="url(#p_aval)"/><rect x="1330.52" y="267.30" width="11.88" height="21.90" fill="url(#p_base)"/><rect x="1330.52" y="289.20" width="11.88" height="28.80" fill="url(#p_poly)"/><rect x="1330.52" y="318.00" width="11.88" height="275.70" fill="url(#p_tron)"/><rect x="1330.52" y="593.70" width="11.88" height="12.50" fill="url(#p_opt)"/><rect x="1330.52" y="606.20" width="11.88" height="25.10" fill="url(#p_eth)"/><rect x="1330.52" y="631.30" width="11.88" height="32.00" fill="url(#p_arb)"/><rect x="1330.52" y="663.30" width="11.88" height="37.50" fill="url(#p_sol)"/><rect x="1330.52" y="700.80" width="11.88" height="133.20" fill="url(#p_bsc)"/><rect x="1344.40" y="262.00" width="11.88" height="4.30" fill="url(#p_ton)"/><rect x="1344.40" y="266.30" width="11.88" height="5.10" fill="url(#p_aval)"/><rect x="1344.40" y="271.40" width="11.88" height="16.40" fill="url(#p_base)"/><rect x="1344.40" y="287.80" width="11.88" height="31.50" fill="url(#p_poly)"/><rect x="1344.40" y="319.30" width="11.88" height="275.80" fill="url(#p_tron)"/><rect x="1344.40" y="595.10" width="11.88" height="13.90" fill="url(#p_opt)"/><rect x="1344.40" y="609.00" width="11.88" height="25.00" fill="url(#p_eth)"/><rect x="1344.40" y="634.00" width="11.88" height="33.40" fill="url(#p_arb)"/><rect x="1344.40" y="667.40" width="11.88" height="39.00" fill="url(#p_sol)"/><rect x="1344.40" y="706.40" width="11.88" height="127.60" fill="url(#p_bsc)"/><rect x="1358.28" y="262.00" width="11.88" height="4.00" fill="url(#p_ton)"/><rect x="1358.28" y="266.00" width="11.88" height="5.40" fill="url(#p_aval)"/><rect x="1358.28" y="271.40" width="11.88" height="19.30" fill="url(#p_base)"/><rect x="1358.28" y="290.70" width="11.88" height="31.30" fill="url(#p_poly)"/><rect x="1358.28" y="322.00" width="11.88" height="262.00" fill="url(#p_tron)"/><rect x="1358.28" y="584.00" width="11.88" height="9.70" fill="url(#p_opt)"/><rect x="1358.28" y="593.70" width="11.88" height="26.40" fill="url(#p_eth)"/><rect x="1358.28" y="620.10" width="11.88" height="36.20" fill="url(#p_arb)"/><rect x="1358.28" y="656.30" width="11.88" height="37.60" fill="url(#p_sol)"/><rect x="1358.28" y="693.90" width="11.88" height="140.10" fill="url(#p_bsc)"/><rect x="1372.16" y="262.00" width="11.88" height="9.40" fill="url(#p_ton)"/><rect x="1372.16" y="271.40" width="11.88" height="4.80" fill="url(#p_aval)"/><rect x="1372.16" y="276.20" width="11.88" height="15.80" fill="url(#p_base)"/><rect x="1372.16" y="292.00" width="11.88" height="28.70" fill="url(#p_poly)"/><rect x="1372.16" y="320.70" width="11.88" height="252.10" fill="url(#p_tron)"/><rect x="1372.16" y="572.80" width="11.88" height="8.40" fill="url(#p_opt)"/><rect x="1372.16" y="581.20" width="11.88" height="23.60" fill="url(#p_eth)"/><rect x="1372.16" y="604.80" width="11.88" height="29.20" fill="url(#p_arb)"/><rect x="1372.16" y="634.00" width="11.88" height="36.20" fill="url(#p_sol)"/><rect x="1372.16" y="670.20" width="11.88" height="163.80" fill="url(#p_bsc)"/><rect x="1386.04" y="262.00" width="11.88" height="4.50" fill="url(#p_ton)"/><rect x="1386.04" y="266.50" width="11.88" height="5.30" fill="url(#p_aval)"/><rect x="1386.04" y="271.80" width="11.88" height="16.00" fill="url(#p_base)"/><rect x="1386.04" y="287.80" width="11.88" height="4.40" fill="url(#p_celo)"/><rect x="1386.04" y="292.20" width="11.88" height="34.50" fill="url(#p_poly)"/><rect x="1386.04" y="326.70" width="11.88" height="257.30" fill="url(#p_tron)"/><rect x="1386.04" y="584.00" width="11.88" height="11.10" fill="url(#p_opt)"/><rect x="1386.04" y="595.10" width="11.88" height="23.60" fill="url(#p_eth)"/><rect x="1386.04" y="618.70" width="11.88" height="25.10" fill="url(#p_arb)"/><rect x="1386.04" y="643.80" width="11.88" height="43.10" fill="url(#p_sol)"/><rect x="1386.04" y="686.90" width="11.88" height="147.10" fill="url(#p_bsc)"/><rect x="1399.92" y="262.00" width="11.88" height="4.50" fill="url(#p_ton)"/><rect x="1399.92" y="266.50" width="11.88" height="5.30" fill="url(#p_aval)"/><rect x="1399.92" y="271.80" width="11.88" height="21.50" fill="url(#p_base)"/><rect x="1399.92" y="293.30" width="11.88" height="12.30" fill="url(#p_celo)"/><rect x="1399.92" y="305.60" width="11.88" height="41.10" fill="url(#p_poly)"/><rect x="1399.92" y="346.70" width="11.88" height="228.90" fill="url(#p_tron)"/><rect x="1399.92" y="575.60" width="11.88" height="7.00" fill="url(#p_opt)"/><rect x="1399.92" y="582.60" width="11.88" height="23.40" fill="url(#p_eth)"/><rect x="1399.92" y="606.00" width="11.88" height="36.40" fill="url(#p_arb)"/><rect x="1399.92" y="642.40" width="11.88" height="52.80" fill="url(#p_sol)"/><rect x="1399.92" y="695.20" width="11.88" height="138.80" fill="url(#p_bsc)"/><rect x="1413.80" y="262.00" width="11.88" height="3.90" fill="url(#p_ton)"/><rect x="1413.80" y="265.90" width="11.88" height="3.00" fill="url(#p_apt)"/><rect x="1413.80" y="268.90" width="11.88" height="5.80" fill="url(#p_aval)"/><rect x="1413.80" y="274.70" width="11.88" height="25.50" fill="url(#p_base)"/><rect x="1413.80" y="300.20" width="11.88" height="15.00" fill="url(#p_celo)"/><rect x="1413.80" y="315.20" width="11.88" height="43.80" fill="url(#p_poly)"/><rect x="1413.80" y="359.00" width="11.88" height="209.70" fill="url(#p_tron)"/><rect x="1413.80" y="568.70" width="11.88" height="6.90" fill="url(#p_opt)"/><rect x="1413.80" y="575.60" width="11.88" height="23.70" fill="url(#p_eth)"/><rect x="1413.80" y="599.30" width="11.88" height="41.70" fill="url(#p_arb)"/><rect x="1413.80" y="641.00" width="11.88" height="50.10" fill="url(#p_sol)"/><rect x="1413.80" y="691.10" width="11.88" height="142.90" fill="url(#p_bsc)"/><rect x="1427.68" y="262.00" width="11.88" height="3.20" fill="url(#p_ton)"/><rect x="1427.68" y="265.20" width="11.88" height="5.50" fill="url(#p_apt)"/><rect x="1427.68" y="270.70" width="11.88" height="5.50" fill="url(#p_aval)"/><rect x="1427.68" y="276.20" width="11.88" height="28.10" fill="url(#p_base)"/><rect x="1427.68" y="304.30" width="11.88" height="38.30" fill="url(#p_celo)"/><rect x="1427.68" y="342.60" width="11.88" height="38.30" fill="url(#p_poly)"/><rect x="1427.68" y="380.90" width="11.88" height="187.80" fill="url(#p_tron)"/><rect x="1427.68" y="568.70" width="11.88" height="6.90" fill="url(#p_opt)"/><rect x="1427.68" y="575.60" width="11.88" height="23.70" fill="url(#p_eth)"/><rect x="1427.68" y="599.30" width="11.88" height="34.70" fill="url(#p_arb)"/><rect x="1427.68" y="634.00" width="11.88" height="69.60" fill="url(#p_sol)"/><rect x="1427.68" y="703.60" width="11.88" height="130.40" fill="url(#p_bsc)"/><rect x="1441.56" y="262.00" width="11.88" height="3.20" fill="url(#p_ton)"/><rect x="1441.56" y="265.20" width="11.88" height="5.80" fill="url(#p_apt)"/><rect x="1441.56" y="271.00" width="11.88" height="6.60" fill="url(#p_aval)"/><rect x="1441.56" y="277.60" width="11.88" height="26.70" fill="url(#p_base)"/><rect x="1441.56" y="304.30" width="11.88" height="30.10" fill="url(#p_celo)"/><rect x="1441.56" y="334.40" width="11.88" height="38.30" fill="url(#p_poly)"/><rect x="1441.56" y="372.70" width="11.88" height="194.60" fill="url(#p_tron)"/><rect x="1441.56" y="567.30" width="11.88" height="6.90" fill="url(#p_opt)"/><rect x="1441.56" y="574.20" width="11.88" height="26.40" fill="url(#p_eth)"/><rect x="1441.56" y="600.60" width="11.88" height="39.00" fill="url(#p_arb)"/><rect x="1441.56" y="639.60" width="11.88" height="51.50" fill="url(#p_sol)"/><rect x="1441.56" y="691.10" width="11.88" height="142.90" fill="url(#p_bsc)"/><rect x="1455.44" y="262.00" width="11.88" height="3.20" fill="url(#p_ton)"/><rect x="1455.44" y="265.20" width="11.88" height="6.20" fill="url(#p_apt)"/><rect x="1455.44" y="271.40" width="11.88" height="4.00" fill="url(#p_aval)"/><rect x="1455.44" y="275.40" width="11.88" height="24.80" fill="url(#p_base)"/><rect x="1455.44" y="300.20" width="11.88" height="8.80" fill="url(#p_celo)"/><rect x="1455.44" y="309.00" width="11.88" height="36.70" fill="url(#p_poly)"/><rect x="1455.44" y="345.70" width="11.88" height="200.70" fill="url(#p_tron)"/><rect x="1455.44" y="546.40" width="11.88" height="5.60" fill="url(#p_opt)"/><rect x="1455.44" y="552.00" width="11.88" height="29.20" fill="url(#p_eth)"/><rect x="1455.44" y="581.20" width="11.88" height="37.50" fill="url(#p_arb)"/><rect x="1455.44" y="618.70" width="11.88" height="43.20" fill="url(#p_sol)"/><rect x="1455.44" y="661.90" width="11.88" height="172.10" fill="url(#p_bsc)"/><rect x="1469.32" y="262.00" width="11.88" height="3.00" fill="url(#p_ton)"/><rect x="1469.32" y="265.00" width="11.88" height="6.40" fill="url(#p_apt)"/><rect x="1469.32" y="271.40" width="11.88" height="4.00" fill="url(#p_aval)"/><rect x="1469.32" y="275.40" width="11.88" height="25.60" fill="url(#p_base)"/><rect x="1469.32" y="301.00" width="11.88" height="8.70" fill="url(#p_celo)"/><rect x="1469.32" y="309.70" width="11.88" height="42.30" fill="url(#p_poly)"/><rect x="1469.32" y="352.00" width="11.88" height="202.70" fill="url(#p_tron)"/><rect x="1469.32" y="554.70" width="11.88" height="8.40" fill="url(#p_opt)"/><rect x="1469.32" y="563.10" width="11.88" height="32.00" fill="url(#p_eth)"/><rect x="1469.32" y="595.10" width="11.88" height="37.50" fill="url(#p_arb)"/><rect x="1469.32" y="632.60" width="11.88" height="48.70" fill="url(#p_sol)"/><rect x="1469.32" y="681.30" width="11.88" height="152.70" fill="url(#p_bsc)"/><rect x="1483.20" y="262.00" width="11.88" height="3.00" fill="url(#p_ton)"/><rect x="1483.20" y="265.00" width="11.88" height="4.80" fill="url(#p_apt)"/><rect x="1483.20" y="269.80" width="11.88" height="3.50" fill="url(#p_aval)"/><rect x="1483.20" y="273.30" width="11.88" height="26.50" fill="url(#p_base)"/><rect x="1483.20" y="299.80" width="11.88" height="4.20" fill="url(#p_celo)"/><rect x="1483.20" y="304.00" width="11.88" height="32.70" fill="url(#p_poly)"/><rect x="1483.20" y="336.70" width="11.88" height="140.80" fill="url(#p_tron)"/><rect x="1483.20" y="477.50" width="11.88" height="7.50" fill="url(#p_opt)"/><rect x="1483.20" y="485.00" width="11.88" height="22.00" fill="url(#p_eth)"/><rect x="1483.20" y="507.00" width="11.88" height="27.80" fill="url(#p_arb)"/><rect x="1483.20" y="534.80" width="11.88" height="39.50" fill="url(#p_sol)"/><rect x="1483.20" y="574.30" width="11.88" height="259.70" fill="url(#p_bsc)"/><rect x="1497.08" y="262.00" width="11.88" height="3.00" fill="url(#p_ton)"/><rect x="1497.08" y="265.00" width="11.88" height="4.80" fill="url(#p_apt)"/><rect x="1497.08" y="269.80" width="11.88" height="3.50" fill="url(#p_aval)"/><rect x="1497.08" y="273.30" width="11.88" height="24.40" fill="url(#p_base)"/><rect x="1497.08" y="297.70" width="11.88" height="8.30" fill="url(#p_celo)"/><rect x="1497.08" y="306.00" width="11.88" height="26.50" fill="url(#p_poly)"/><rect x="1497.08" y="332.50" width="11.88" height="109.00" fill="url(#p_tron)"/><rect x="1497.08" y="441.50" width="11.88" height="4.50" fill="url(#p_opt)"/><rect x="1497.08" y="446.00" width="11.88" height="15.70" fill="url(#p_eth)"/><rect x="1497.08" y="461.70" width="11.88" height="20.00" fill="url(#p_arb)"/><rect x="1497.08" y="481.70" width="11.88" height="35.60" fill="url(#p_sol)"/><rect x="1497.08" y="517.30" width="11.88" height="316.70" fill="url(#p_bsc)"/><rect x="1510.96" y="262.00" width="11.88" height="3.00" fill="url(#p_ton)"/><rect x="1510.96" y="265.00" width="11.88" height="4.80" fill="url(#p_apt)"/><rect x="1510.96" y="269.80" width="11.88" height="4.20" fill="url(#p_aval)"/><rect x="1510.96" y="274.00" width="11.88" height="28.00" fill="url(#p_base)"/><rect x="1510.96" y="302.00" width="11.88" height="7.50" fill="url(#p_celo)"/><rect x="1510.96" y="309.50" width="11.88" height="35.50" fill="url(#p_poly)"/><rect x="1510.96" y="345.00" width="11.88" height="105.00" fill="url(#p_tron)"/><rect x="1510.96" y="450.00" width="11.88" height="5.80" fill="url(#p_opt)"/><rect x="1510.96" y="455.80" width="11.88" height="15.50" fill="url(#p_eth)"/><rect x="1510.96" y="471.30" width="11.88" height="25.20" fill="url(#p_arb)"/><rect x="1510.96" y="496.50" width="11.88" height="50.10" fill="url(#p_sol)"/><rect x="1510.96" y="546.60" width="11.88" height="287.40" fill="url(#p_bsc)"/><rect x="1524.84" y="262.00" width="11.88" height="3.00" fill="url(#p_ton)"/><rect x="1524.84" y="265.00" width="11.88" height="4.80" fill="url(#p_apt)"/><rect x="1524.84" y="269.80" width="11.88" height="3.50" fill="url(#p_aval)"/><rect x="1524.84" y="273.30" width="11.88" height="37.70" fill="url(#p_base)"/><rect x="1524.84" y="311.00" width="11.88" height="10.50" fill="url(#p_celo)"/><rect x="1524.84" y="321.50" width="11.88" height="37.50" fill="url(#p_poly)"/><rect x="1524.84" y="359.00" width="11.88" height="136.50" fill="url(#p_tron)"/><rect x="1524.84" y="495.50" width="11.88" height="5.70" fill="url(#p_opt)"/><rect x="1524.84" y="501.20" width="11.88" height="25.60" fill="url(#p_eth)"/><rect x="1524.84" y="526.80" width="11.88" height="29.70" fill="url(#p_arb)"/><rect x="1524.84" y="556.50" width="11.88" height="61.40" fill="url(#p_sol)"/><rect x="1524.84" y="617.90" width="11.88" height="216.10" fill="url(#p_bsc)"/><rect x="1538.72" y="262.00" width="11.88" height="3.00" fill="url(#p_ton)"/><rect x="1538.72" y="265.00" width="11.88" height="4.80" fill="url(#p_apt)"/><rect x="1538.72" y="269.80" width="11.88" height="3.50" fill="url(#p_aval)"/><rect x="1538.72" y="273.30" width="11.88" height="42.90" fill="url(#p_base)"/><rect x="1538.72" y="316.20" width="11.88" height="6.30" fill="url(#p_celo)"/><rect x="1538.72" y="322.50" width="11.88" height="31.30" fill="url(#p_poly)"/><rect x="1538.72" y="353.80" width="11.88" height="143.20" fill="url(#p_tron)"/><rect x="1538.72" y="497.00" width="11.88" height="4.10" fill="url(#p_opt)"/><rect x="1538.72" y="501.10" width="11.88" height="23.80" fill="url(#p_eth)"/><rect x="1538.72" y="524.90" width="11.88" height="29.60" fill="url(#p_arb)"/><rect x="1538.72" y="554.50" width="11.88" height="51.50" fill="url(#p_sol)"/><rect x="1538.72" y="606.00" width="11.88" height="228.00" fill="url(#p_bsc)"/><rect x="1552.60" y="262.00" width="11.88" height="3.00" fill="url(#p_ton)"/><rect x="1552.60" y="265.00" width="11.88" height="4.80" fill="url(#p_apt)"/><rect x="1552.60" y="269.80" width="11.88" height="3.50" fill="url(#p_aval)"/><rect x="1552.60" y="273.30" width="11.88" height="50.90" fill="url(#p_base)"/><rect x="1552.60" y="324.20" width="11.88" height="6.30" fill="url(#p_celo)"/><rect x="1552.60" y="330.50" width="11.88" height="27.50" fill="url(#p_poly)"/><rect x="1552.60" y="358.00" width="11.88" height="133.20" fill="url(#p_tron)"/><rect x="1552.60" y="491.20" width="11.88" height="3.80" fill="url(#p_opt)"/><rect x="1552.60" y="495.00" width="11.88" height="23.50" fill="url(#p_eth)"/><rect x="1552.60" y="518.50" width="11.88" height="26.20" fill="url(#p_arb)"/><rect x="1552.60" y="544.70" width="11.88" height="47.40" fill="url(#p_sol)"/><rect x="1552.60" y="592.10" width="11.88" height="241.90" fill="url(#p_bsc)"/><rect x="1566.48" y="262.00" width="11.88" height="3.00" fill="url(#p_ton)"/><rect x="1566.48" y="265.00" width="11.88" height="4.80" fill="url(#p_apt)"/><rect x="1566.48" y="269.80" width="11.88" height="3.50" fill="url(#p_aval)"/><rect x="1566.48" y="273.30" width="11.88" height="59.90" fill="url(#p_base)"/><rect x="1566.48" y="333.20" width="11.88" height="9.10" fill="url(#p_celo)"/><rect x="1566.48" y="342.30" width="11.88" height="31.30" fill="url(#p_poly)"/><rect x="1566.48" y="373.60" width="11.88" height="137.40" fill="url(#p_tron)"/><rect x="1566.48" y="511.00" width="11.88" height="6.00" fill="url(#p_opt)"/><rect x="1566.48" y="517.00" width="11.88" height="29.60" fill="url(#p_eth)"/><rect x="1566.48" y="546.60" width="11.88" height="25.80" fill="url(#p_arb)"/><rect x="1566.48" y="572.40" width="11.88" height="41.50" fill="url(#p_sol)"/><rect x="1566.48" y="613.90" width="11.88" height="220.10" fill="url(#p_bsc)"/><rect x="1580.36" y="262.00" width="11.88" height="3.00" fill="url(#p_ton)"/><rect x="1580.36" y="265.00" width="11.88" height="4.80" fill="url(#p_apt)"/><rect x="1580.36" y="269.80" width="11.88" height="3.50" fill="url(#p_aval)"/><rect x="1580.36" y="273.30" width="11.88" height="50.90" fill="url(#p_base)"/><rect x="1580.36" y="324.20" width="11.88" height="10.80" fill="url(#p_celo)"/><rect x="1580.36" y="335.00" width="11.88" height="37.90" fill="url(#p_poly)"/><rect x="1580.36" y="372.90" width="11.88" height="150.00" fill="url(#p_tron)"/><rect x="1580.36" y="522.90" width="11.88" height="4.90" fill="url(#p_opt)"/><rect x="1580.36" y="527.80" width="11.88" height="35.20" fill="url(#p_eth)"/><rect x="1580.36" y="563.00" width="11.88" height="28.00" fill="url(#p_arb)"/><rect x="1580.36" y="591.00" width="11.88" height="40.70" fill="url(#p_sol)"/><rect x="1580.36" y="631.70" width="11.88" height="202.30" fill="url(#p_bsc)"/><rect x="1594.24" y="262.00" width="11.88" height="3.00" fill="url(#p_ton)"/><rect x="1594.24" y="265.00" width="11.88" height="4.80" fill="url(#p_apt)"/><rect x="1594.24" y="269.80" width="11.88" height="3.50" fill="url(#p_aval)"/><rect x="1594.24" y="273.30" width="11.88" height="43.20" fill="url(#p_base)"/><rect x="1594.24" y="316.50" width="11.88" height="9.10" fill="url(#p_celo)"/><rect x="1594.24" y="325.60" width="11.88" height="39.30" fill="url(#p_poly)"/><rect x="1594.24" y="364.90" width="11.88" height="144.10" fill="url(#p_tron)"/><rect x="1594.24" y="509.00" width="11.88" height="6.00" fill="url(#p_opt)"/><rect x="1594.24" y="515.00" width="11.88" height="43.60" fill="url(#p_eth)"/><rect x="1594.24" y="558.60" width="11.88" height="26.40" fill="url(#p_arb)"/><rect x="1594.24" y="585.00" width="11.88" height="50.70" fill="url(#p_sol)"/><rect x="1594.24" y="635.70" width="11.88" height="198.30" fill="url(#p_bsc)"/><rect x="1608.12" y="262.00" width="11.88" height="3.00" fill="url(#p_ton)"/><rect x="1608.12" y="265.00" width="11.88" height="4.80" fill="url(#p_apt)"/><rect x="1608.12" y="269.80" width="11.88" height="3.50" fill="url(#p_aval)"/><rect x="1608.12" y="273.30" width="11.88" height="41.80" fill="url(#p_base)"/><rect x="1608.12" y="315.10" width="11.88" height="9.90" fill="url(#p_celo)"/><rect x="1608.12" y="325.00" width="11.88" height="42.70" fill="url(#p_poly)"/><rect x="1608.12" y="367.70" width="11.88" height="133.60" fill="url(#p_tron)"/><rect x="1608.12" y="501.30" width="11.88" height="4.70" fill="url(#p_opt)"/><rect x="1608.12" y="506.00" width="11.88" height="40.60" fill="url(#p_eth)"/><rect x="1608.12" y="546.60" width="11.88" height="31.70" fill="url(#p_arb)"/><rect x="1608.12" y="578.30" width="11.88" height="53.40" fill="url(#p_sol)"/><rect x="1608.12" y="631.70" width="11.88" height="202.30" fill="url(#p_bsc)"/>
<line x1="231" y1="834.8" x2="1623.5" y2="834.8" stroke="#555" stroke-width="1.6"/>
<g font-family="Liberation Sans, sans-serif" font-size="17.6" fill="#2a2a2a"><text x="211" y="782.8" text-anchor="end">10.00%</text><text x="211" y="725.5" text-anchor="end">20.00%</text><text x="211" y="668.2" text-anchor="end">30.00%</text><text x="211" y="610.9" text-anchor="end">40.00%</text><text x="211" y="553.6" text-anchor="end">50.00%</text><text x="211" y="496.4" text-anchor="end">60.00%</text><text x="211" y="439.1" text-anchor="end">70.00%</text><text x="211" y="381.8" text-anchor="end">80.00%</text><text x="211" y="324.5" text-anchor="end">90.00%</text><text x="211" y="267.4" text-anchor="end">100%</text></g>
<g font-family="Liberation Sans, sans-serif" font-size="17.5" fill="#333"><line x1="239.94" y1="835" x2="239.94" y2="850" stroke="#555" stroke-width="1.5"/><text x="239.94" y="867.6" text-anchor="middle">Nov 2017</text><line x1="378.74" y1="835" x2="378.74" y2="850" stroke="#555" stroke-width="1.5"/><text x="378.74" y="867.6" text-anchor="middle">Sep 2018</text><line x1="517.54" y1="835" x2="517.54" y2="850" stroke="#555" stroke-width="1.5"/><text x="517.54" y="867.6" text-anchor="middle">Jul 2019</text><line x1="656.34" y1="835" x2="656.34" y2="850" stroke="#555" stroke-width="1.5"/><text x="656.34" y="867.6" text-anchor="middle">May 2020</text><line x1="795.14" y1="835" x2="795.14" y2="850" stroke="#555" stroke-width="1.5"/><text x="795.14" y="867.6" text-anchor="middle">Mar 2021</text><line x1="933.94" y1="835" x2="933.94" y2="850" stroke="#555" stroke-width="1.5"/><text x="933.94" y="867.6" text-anchor="middle">Jan 2022</text><line x1="1072.74" y1="835" x2="1072.74" y2="850" stroke="#555" stroke-width="1.5"/><text x="1072.74" y="867.6" text-anchor="middle">Nov 2022</text><line x1="1211.54" y1="835" x2="1211.54" y2="850" stroke="#555" stroke-width="1.5"/><text x="1211.54" y="867.6" text-anchor="middle">Sep 2023</text><line x1="1350.34" y1="835" x2="1350.34" y2="850" stroke="#555" stroke-width="1.5"/><text x="1350.34" y="867.6" text-anchor="middle">Jul 2024</text><line x1="1489.14" y1="835" x2="1489.14" y2="850" stroke="#555" stroke-width="1.5"/><text x="1489.14" y="867.6" text-anchor="middle">May 2025</text></g>
<text x="0" y="0" transform="translate(126.2 553) rotate(-90)" text-anchor="middle" font-family="Liberation Sans, sans-serif" font-size="26.2" fill="#222">Transaction Count</text>
<text x="927" y="929.5" text-anchor="middle" font-family="Liberation Sans, sans-serif" font-size="25" fill="#222">Date</text>
<text x="1660" y="263" font-family="Liberation Sans, sans-serif" font-size="20.5" stroke="#1a1a1a" stroke-width="0.8" letter-spacing="1.1" fill="#1a1a1a">Blockchain</text>
<g font-family="Liberation Sans, sans-serif" font-size="22.2" letter-spacing="-0.25" fill="#1e1e1e"><rect x="1659" y="287.7" width="21.4" height="21.4" fill="url(#lg_bsc)"/><text x="1689" y="306.4">BSC</text><rect x="1659" y="331.2" width="21.4" height="21.4" fill="url(#lg_sol)"/><text x="1689" y="349.9">Solana</text><rect x="1659" y="374.8" width="21.4" height="21.4" fill="url(#lg_arb)"/><text x="1689" y="393.5">Arbitrum</text><rect x="1659" y="418.3" width="21.4" height="21.4" fill="url(#lg_eth)"/><text x="1689" y="437.0">Ethereum</text><rect x="1659" y="461.9" width="21.4" height="21.4" fill="url(#lg_opt)"/><text x="1689" y="480.6">Optimism</text><rect x="1659" y="505.4" width="21.4" height="21.4" fill="url(#lg_tron)"/><text x="1689" y="524.1">Tron</text><rect x="1659" y="549.0" width="21.4" height="21.4" fill="url(#lg_poly)"/><text x="1689" y="567.7">Polygon</text><rect x="1659" y="592.5" width="21.4" height="21.4" fill="url(#lg_celo)"/><text x="1689" y="611.2">Celo</text><rect x="1659" y="636.1" width="21.4" height="21.4" fill="url(#lg_base)"/><text x="1689" y="654.8">Base</text><rect x="1659" y="679.6" width="21.4" height="21.4" fill="url(#lg_aval)"/><text x="1689" y="698.3">Avalanche</text><rect x="1659" y="723.2" width="21.4" height="21.4" fill="url(#lg_hyp)"/><text x="1689" y="741.9">HyperEVM</text><rect x="1659" y="766.7" width="21.4" height="21.4" fill="url(#lg_linea)"/><text x="1689" y="785.4">Linea</text><rect x="1659" y="810.3" width="21.4" height="21.4" fill="url(#lg_apt)"/><text x="1689" y="829.0">Aptos</text><rect x="1659" y="853.8" width="21.4" height="21.4" fill="url(#lg_ton)"/><text x="1689" y="872.5">TON</text></g>
</svg>
<div class="lbl" style="left:0;width:1920px;top:1004.5px;text-align:center;font-size:23.6px;color:#111">Source: Visa Onchain Analytics</div>
</div>
</body></html>
